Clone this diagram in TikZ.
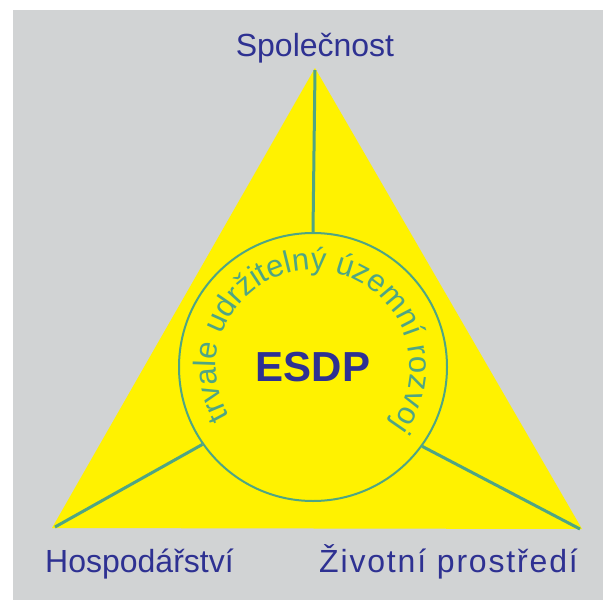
\documentclass[tikz,border=0pt]{standalone}
\usepackage{fontspec}
\setmainfont{Liberation Sans}
\newfontfamily\spacedfont[LetterSpace=5.7]{Liberation Sans}
\usetikzlibrary{decorations.text}
\definecolor{bggray}{HTML}{D1D3D4}
\definecolor{tyellow}{HTML}{FFF200}
\definecolor{tgreen}{HTML}{4FA584}
\definecolor{tblue}{HTML}{2E3192}
\tikzset{
  gline/.style={draw=tgreen, line width=3pt},
  label/.style={text=tblue, font=\fontsize{32}{32}\selectfont, inner sep=0pt, anchor=base},
}
\begin{document}
\begin{tikzpicture}[x=1pt,y=1pt]
\useasboundingbox (0,0) rectangle (603,-600);
\fill[white] (0,0) rectangle (603,-600);
\fill[bggray] (13,-10) rectangle (603,-600);
\coordinate (top) at (315,-68);
\coordinate (bl) at (52,-528);
\coordinate (br) at (582,-529);
\coordinate (ltop) at (315,-70);
\coordinate (lbl) at (55,-527);
\coordinate (lbr) at (580,-529);
\fill[tyellow] (top) -- (bl) -- (br) -- cycle;
\node[circle, draw=tgreen, line width=2pt, minimum size=268pt, inner sep=0pt] (C) at (313,-367) {};
\draw[gline] (ltop) -- (C.north);
\draw[gline] (lbl) -- (C.215.4);
\draw[gline] (lbr) -- (C.324.6);
\node[text=tblue, font=\fontsize{42}{42}\selectfont\bfseries] (esdp) at (C) {ESDP};
\path[decorate, decoration={text along path, text align=center,
  text={|\fontsize{31}{31}\selectfont\color{tgreen}|trvale udržitelný územní rozvoj}}]
  ([shift={(213:97)}]C.center) arc[start angle=213, end angle=-39, radius=97];
\node[label] (spol) at (315,-56) {Společnost};
\node[label, anchor=base west] (hosp) at (45,-572) {Hospodářství};
\node[label, anchor=base east, font=\spacedfont\fontsize{32}{32}\selectfont] (ziv) at (578,-572) {Životní prostředí};
\end{tikzpicture}
\end{document}
